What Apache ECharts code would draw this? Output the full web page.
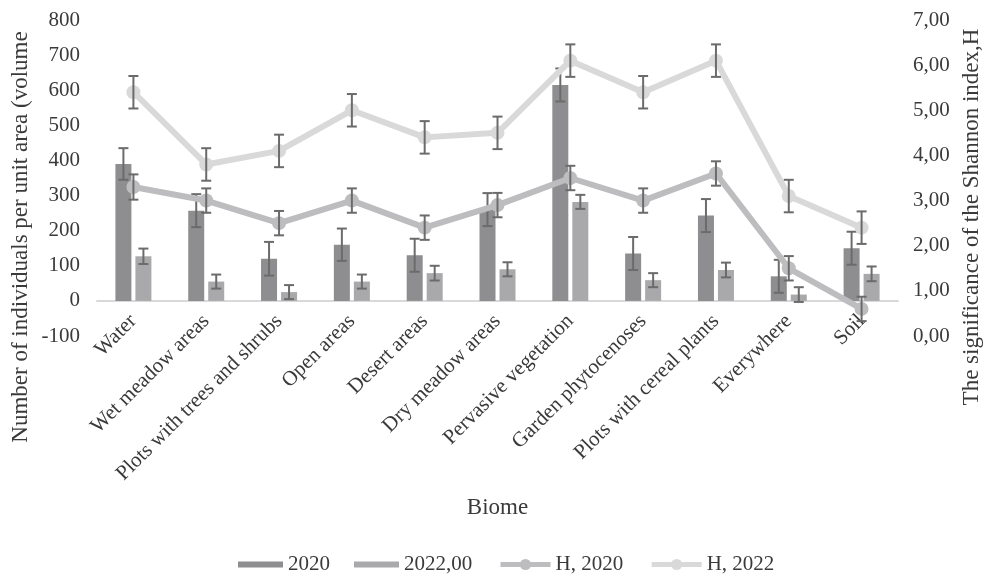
<!DOCTYPE html>
<html>
<head>
<meta charset="utf-8">
<script src="https://cdn.jsdelivr.net/npm/echarts@6/dist/echarts.min.js"></script>
<style>
  html, body { margin: 0; padding: 0; background: #fff; }
  #chart { width: 990px; height: 578px; }
</style>
</head>
<body>
<div id="chart"></div>
<script>
const categories = [
  "Water", "Wet meadow areas", "Plots with trees and shrubs", "Open areas",
  "Desert areas", "Dry meadow areas", "Pervasive vegetation",
  "Garden phytocenoses", "Plots with cereal plants", "Everywhere", "Soil"
];
const bars2020 = [390, 257, 120, 160, 130, 260, 615, 135, 243, 70, 150];
const err2020 = [45, 47, 48, 46, 47, 47, 47, 47, 47, 47, 47];
const bars2022 = [127, 55, 25, 55, 79, 90, 282, 59, 88, 18, 77];
const err2022 = [22, 20, 20, 20, 21, 20, 20, 20, 21, 21, 21];
const h2020 = [3.3, 3.0, 2.5, 3.0, 2.4, 2.9, 3.5, 3.0, 3.6, 1.5, 0.6];
const errH2020 = [0.28, 0.27, 0.27, 0.27, 0.27, 0.27, 0.27, 0.27, 0.27, 0.27, 0.27];
const h2022 = [5.4, 3.8, 4.1, 5.0, 4.4, 4.5, 6.1, 5.4, 6.1, 3.1, 2.4];
const errH2022 = [0.36, 0.36, 0.36, 0.36, 0.36, 0.36, 0.36, 0.36, 0.36, 0.36, 0.36];
const leftTicks = ["-100", "0", "100", "200", "300", "400", "500", "600", "700", "800"];
const rightTicks = ["0,00", "1,00", "2,00", "3,00", "4,00", "5,00", "6,00", "7,00"];

const font = "'Liberation Serif', 'DejaVu Serif', serif";
const textColor = "#3a3a3a";
const errColor = "#6b6b6b";

// error bars drawn as a custom series, shifted to sit on the right bar
function errorBars(vals, errs, yIndex, offset, z) {
  return {
    type: "custom",
    yAxisIndex: yIndex,
    z: z,
    silent: true,
    encode: { x: 0, y: [1, 2] },
    data: vals.map((v, i) => [i, v - errs[i], v + errs[i]]),
    renderItem: function (params, api) {
      const hi = api.coord([api.value(0), api.value(2)]);
      const lo = api.coord([api.value(0), api.value(1)]);
      const x = hi[0] + offset;
      const half = 5;
      const style = { stroke: errColor, lineWidth: 2 };
      return {
        type: "group",
        children: [
          { type: "line", shape: { x1: x, y1: hi[1], x2: x, y2: lo[1] }, style: style },
          { type: "line", shape: { x1: x - half, y1: hi[1], x2: x + half, y2: hi[1] }, style: style },
          { type: "line", shape: { x1: x - half, y1: lo[1], x2: x + half, y2: lo[1] }, style: style }
        ]
      };
    }
  };
}

const chart = echarts.init(document.getElementById("chart"));

const legendText = { fontFamily: font, fontSize: 21, color: textColor };

const option = {
  animation: false,
  textStyle: { fontFamily: font },
  grid: { left: 97, right: 92, top: 20, bottom: 242 },
  legend: [
    {
      left: 238,
      top: 554,
      padding: 0,
      itemWidth: 45,
      itemHeight: 6,
      itemGap: 24,
      textStyle: legendText,
      data: [
        { name: "2020", icon: "rect" },
        { name: "2022,00", icon: "rect" }
      ]
    },
    {
      left: 498,
      top: 554,
      padding: 0,
      itemWidth: 50,
      itemHeight: 14,
      itemGap: 26,
      textStyle: legendText,
      lineStyle: { width: 5 },
      data: ["H, 2020", "H, 2022"]
    }
  ],
  xAxis: {
    type: "category",
    data: categories,
    name: "Biome",
    nameLocation: "middle",
    nameGap: 160,
    nameTextStyle: { fontFamily: font, fontSize: 23, color: textColor },
    axisLine: { onZero: true, lineStyle: { color: "#d9d9d9", width: 2 } },
    axisTick: { show: false },
    axisLabel: {
      rotate: 45,
      margin: -18,
      interval: 0,
      fontFamily: font,
      fontSize: 21,
      color: textColor
    }
  },
  yAxis: [
    {
      type: "value",
      min: -100,
      max: 800,
      interval: 100,
      splitLine: { show: false },
      axisLine: { show: false },
      axisTick: { show: false },
      axisLabel: {
        margin: 17,
        fontFamily: font,
        fontSize: 21,
        color: textColor,
        formatter: (v) => leftTicks[Math.round((v + 100) / 100)]
      }
    },
    {
      type: "value",
      min: 0,
      max: 7,
      interval: 1,
      splitLine: { show: false },
      axisLine: { show: false },
      axisTick: { show: false },
      axisLabel: {
        margin: 15,
        fontFamily: font,
        fontSize: 21,
        color: textColor,
        formatter: (v) => rightTicks[Math.round(v)]
      }
    }
  ],
  graphic: [
    {
      type: "text",
      x: 21,
      y: 237,
      rotation: Math.PI / 2,
      style: {
        text: "Number of individuals per unit area (volume",
        font: "23px " + font,
        fill: textColor,
        textAlign: "center",
        textVerticalAlign: "middle"
      }
    },
    {
      type: "text",
      x: 972,
      y: 217,
      rotation: Math.PI / 2,
      style: {
        text: "The significance of the Shannon index,H",
        font: "23px " + font,
        fill: textColor,
        textAlign: "center",
        textVerticalAlign: "middle"
      }
    }
  ],
  series: [
    {
      name: "2020",
      type: "bar",
      barWidth: 16,
      barGap: "25%",
      itemStyle: { color: "#8e8e91" },
      z: 2,
      data: bars2020
    },
    {
      name: "2022,00",
      type: "bar",
      barWidth: 16,
      itemStyle: { color: "#a9a9ab" },
      z: 2,
      data: bars2022
    },
    errorBars(bars2020, err2020, 0, -10, 3),
    errorBars(bars2022, err2022, 0, 10, 3),
    {
      name: "H, 2020",
      type: "line",
      yAxisIndex: 1,
      symbol: "circle",
      symbolSize: 14,
      lineStyle: { color: "#bdbdc0", width: 6 },
      itemStyle: { color: "#bdbdc0" },
      z: 4,
      data: h2020
    },
    {
      name: "H, 2022",
      type: "line",
      yAxisIndex: 1,
      symbol: "circle",
      symbolSize: 14,
      lineStyle: { color: "#d9d9d9", width: 6 },
      itemStyle: { color: "#d9d9d9" },
      z: 4,
      data: h2022
    },
    errorBars(h2020, errH2020, 1, 0, 5),
    errorBars(h2022, errH2022, 1, 0, 5)
  ]
};

chart.setOption(option);
</script>
</body>
</html>
